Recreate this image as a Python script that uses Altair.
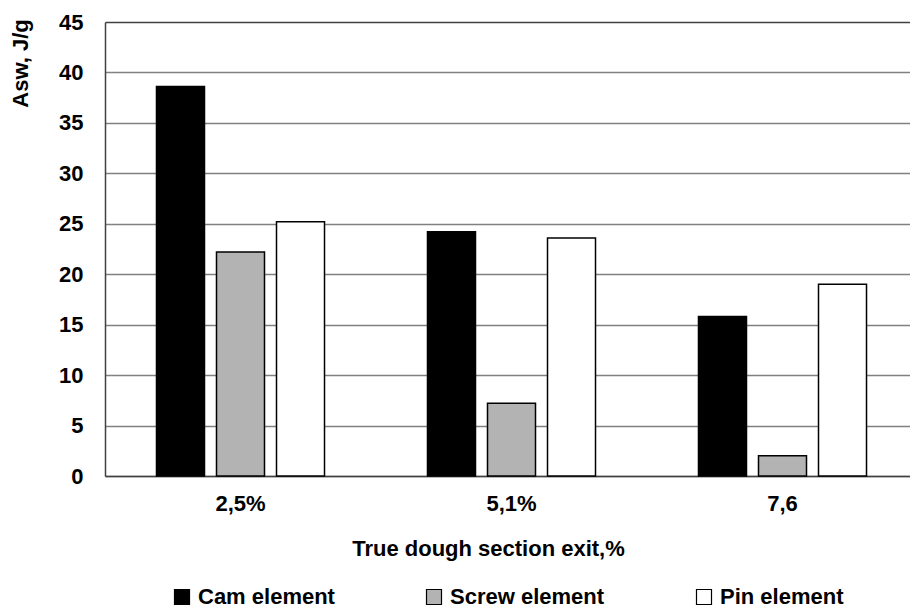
import altair as alt
import pandas as pd

categories = ["2,5%", "5,1%", "7,6"]
series = ["Cam element", "Screw element", "Pin element"]
cam_values = [38.6, 24.2, 15.8]
screw_values = [22.2, 7.2, 2.0]
pin_values = [25.2, 23.6, 19.0]
y_ticks = [0, 5, 10, 15, 20, 25, 30, 35, 40, 45]
colors = ["#000000", "#b3b3b3", "#ffffff"]

rows = []
for s, vals in zip(series, [cam_values, screw_values, pin_values]):
    for c, v in zip(categories, vals):
        rows.append({"cat": c, "series": s, "value": v})
df = pd.DataFrame(rows)

FONT = "Liberation Sans"
FS = 22

chart = alt.Chart(df).mark_bar(stroke="black", strokeWidth=1.5).encode(
    x=alt.X("cat:N", sort=categories, scale=alt.Scale(rangeMax=813, paddingInner=0, paddingOuter=0),
            axis=alt.Axis(title="True dough section exit,%", labelAngle=0, tickSize=0,
                          labelPadding=17, labelFontSize=FS, labelFont=FONT, labelFontWeight="bold",
                          labelColor="black", domainColor="#404040", domainWidth=1.5,
                          titleFont=FONT, titleFontSize=FS, titleFontWeight="bold", titleColor="black",
                          titleX=383, titleY=72, titleAlign="center", titleBaseline="middle",
                          grid=False)),
    xOffset=alt.XOffset("series:N", sort=series,
                        scale=alt.Scale(paddingInner=0.2, paddingOuter=0.858)),
    y=alt.Y("value:Q", scale=alt.Scale(domain=[0, 45], nice=False),
            axis=alt.Axis(title="Asw, J/g", values=y_ticks, tickSize=0, labelPadding=22,
                          labelFontSize=FS, labelFont=FONT, labelFontWeight="bold", labelColor="black",
                          domainColor="#404040", domainWidth=1.5,
                          gridColor=alt.condition("datum.value == 45", alt.value("#404040"), alt.value("#808080")),
                          gridWidth=alt.condition("datum.value == 45", alt.value(1.5), alt.value(1.3)),
                          titleFont=FONT, titleFontSize=FS, titleFontWeight="bold", titleColor="black",
                          titleAngle=270, titleX=-85, titleY=41, titleAlign="center",
                          titleBaseline="middle")),
    fill=alt.Fill("series:N", sort=series, scale=alt.Scale(domain=series, range=colors),
                  legend=alt.Legend(title=None, orient="none", legendX=66, legendY=564,
                                    direction="horizontal", symbolType="square", symbolSize=225,
                                    symbolStrokeColor="black", symbolStrokeWidth=1.2,
                                    labelFont=FONT, labelFontSize=FS, labelFontWeight="bold",
                                    labelColor="black", labelOffset=5, columnPadding=88,
                                    padding=0)),
).properties(
    width=805,
    height=454,
    autosize=alt.AutoSizeParams(type="none"),
    padding={"left": 105, "top": 22, "right": 0, "bottom": 134},
).configure_view(stroke=None)

chart.save("out.html", embed_options={"renderer": "svg", "actions": False})
